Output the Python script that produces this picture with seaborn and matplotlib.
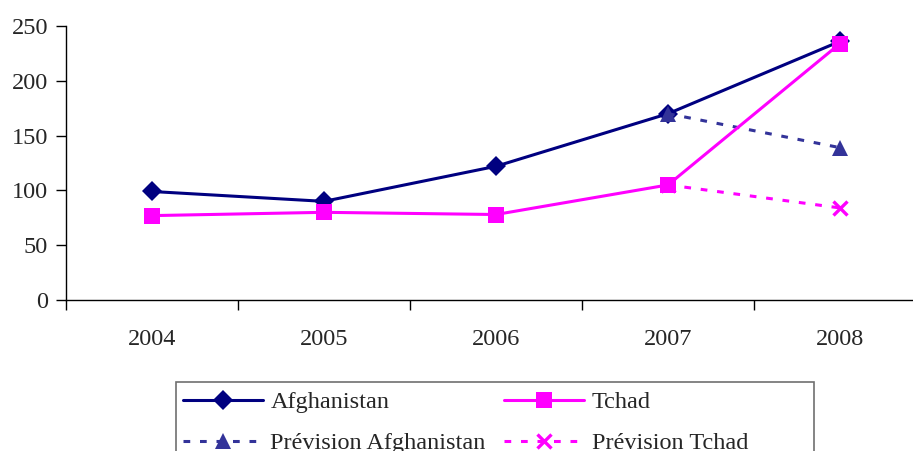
import matplotlib
matplotlib.use("Agg")
import matplotlib.pyplot as plt
from matplotlib.patches import Rectangle
import seaborn as sns

years = ["2004", "2005", "2006", "2007", "2008"]
afghanistan = [99, 90, 122, 170, 236]
tchad = [77, 80, 78, 105, 234]
forecast_years = ["2007", "2008"]
prevision_afghanistan = [170, 139]
prevision_tchad = [105, 84]

sns.set_theme(style="white")
plt.rcParams["font.family"] = ["Liberation Serif", "DejaVu Serif"]
FS = 17.5
plt.rcParams["font.size"] = FS

W, H = 913, 451
fig = plt.figure(figsize=(W / 100, H / 100), dpi=100)
ax = fig.add_axes([66 / W, 1 - 300 / H, 1 - 66 / W, (300 - 26) / H])

pos = {y: i for i, y in enumerate(years)}
x_main = [pos[y] for y in years]
x_fc = [pos[y] for y in forecast_years]

navy = "#000080"
indigo = "#333399"
magenta = "#FF00FF"
dash = (0, (2.2, 3.2))

sns.lineplot(x=x_main, y=afghanistan, ax=ax, color=navy, lw=2.2,
             marker="D", markersize=10.5, markeredgewidth=0,
             label="Afghanistan", zorder=2)
sns.lineplot(x=x_fc, y=prevision_afghanistan, ax=ax, color=indigo, lw=2.2,
             linestyle=dash, marker="^", markersize=12, markeredgewidth=0,
             label="Prévision Afghanistan", zorder=3)
sns.lineplot(x=x_fc, y=prevision_tchad, ax=ax, color=magenta, lw=2.2,
             linestyle=dash, marker="x", markersize=10, markeredgewidth=2.4,
             markeredgecolor=magenta,
             label="Prévision Tchad", zorder=4)
sns.lineplot(x=x_main, y=tchad, ax=ax, color=magenta, lw=2.2,
             marker="s", markersize=11, markeredgewidth=0,
             label="Tchad", zorder=5)

ax.set_yticks(range(0, 251, 50))
ax.set_xticks([i - 0.5 for i in range(len(years) + 1)])
ax.set_xticklabels([])
ax.set_xticks(x_main, minor=True)
ax.set_xticklabels(years, minor=True)
ax.set_ylim(0, 250)
ax.set_xlim(-0.5, (W - 66) / 172 - 0.5)
ax.tick_params(axis="x", which="major", direction="out", length=7, width=1,
               color="black", bottom=True)
ax.tick_params(axis="x", which="minor", length=0, pad=21, labelsize=FS)
ax.tick_params(axis="y", direction="out", length=7, width=1, color="black",
               left=True, pad=6, labelsize=FS)
for s in ["top", "right"]:
    ax.spines[s].set_visible(False)
for s in ["left", "bottom"]:
    ax.spines[s].set_color("black")
    ax.spines[s].set_linewidth(1)
ax.set_xlabel("")
ax.set_ylabel("")
if ax.get_legend():
    ax.get_legend().remove()

handles, labels = ax.get_legend_handles_labels()
order = ["Afghanistan", "Prévision Afghanistan", "Tchad", "Prévision Tchad"]
hmap = dict(zip(labels, handles))
fig.legend([hmap[k] for k in order], order, ncol=2, loc="upper left",
           bbox_to_anchor=(183 / W, 1 - 391 / H), frameon=False, borderpad=0,
           borderaxespad=0, handlelength=3.3, handletextpad=0.3,
           columnspacing=0.75, labelspacing=0.79, fontsize=FS)

fig.patches.append(Rectangle((176 / W, -0.1), (814 - 176) / W, 1 - 382 / H + 0.1,
                             transform=fig.transFigure, fill=False,
                             edgecolor="#707070", linewidth=1.2))

fig.savefig("out.png", dpi=100)
